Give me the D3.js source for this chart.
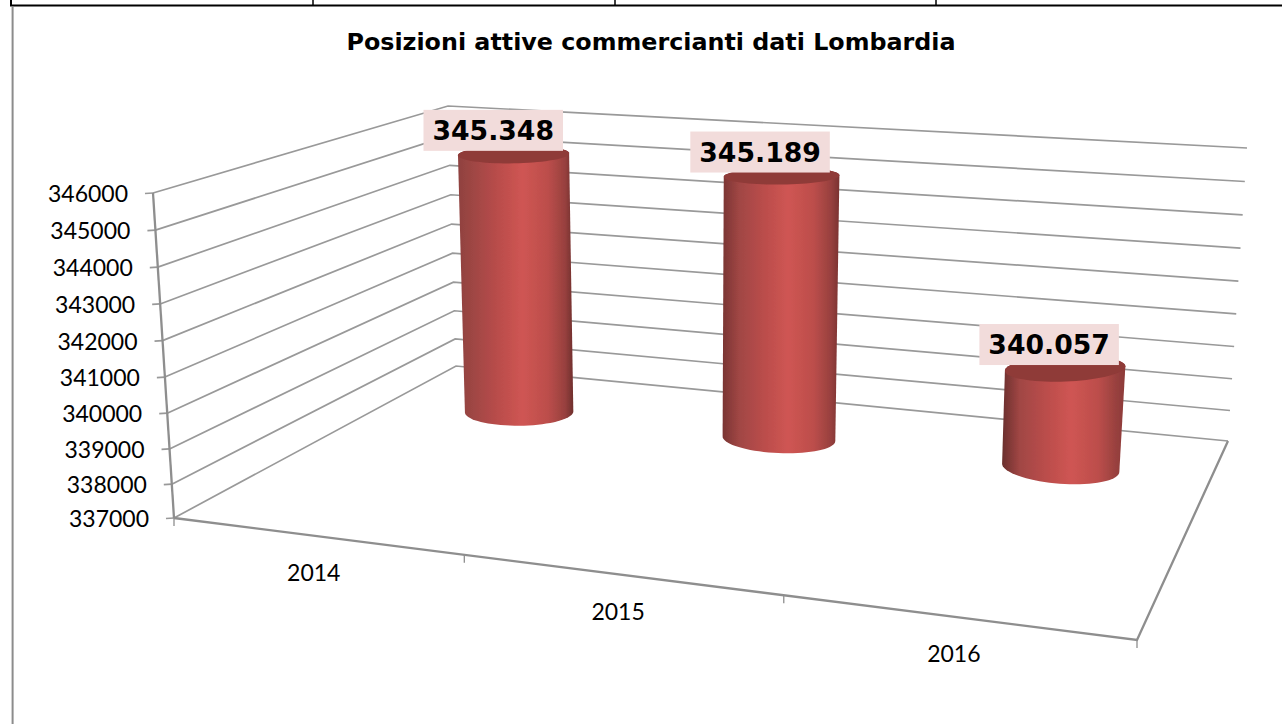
<!DOCTYPE html>
<html><head><meta charset="utf-8">
<script src="https://cdn.jsdelivr.net/npm/d3@7"></script>
<style>html,body{margin:0;padding:0;background:#fff;overflow:hidden}svg{display:block}</style>
</head><body><svg id="c" width="1282" height="724"></svg>
<script>
const titleText = "Posizioni attive commercianti dati Lombardia";
const categories = ["2014", "2015", "2016"];
const values = [345348, 345189, 340057];
const valueLabels = ["345.348", "345.189", "340.057"];
const yTicks = [337000, 338000, 339000, 340000, 341000, 342000, 343000, 344000, 345000, 346000];

// layout: perspective frame of the Excel-style 3D chart
const floorFL = [174, 518], floorFR = [1137, 640], floorBR = [1228, 441], floorBL = [456, 366];
const topFL = [153, 193], topBL = [448, 106], topBR = [1247, 148];
const capRy = [9, 8.5, 13], capRot = [-1, -0.8, -2.2], baseRy = [14, 14.5, 16], baseRot = [-0.5, 2.5, 4.3];
const labelDx = [-20.3, -21.5, -16];
const edgeLeft = ["#8f4240", "#7a3533", "#6a2f2d"], edgeRight = ["#6f2f2d", "#7a3331", "#8c3a38"];
const depth = 0.74, heightK = 326, radiusK = 64.5, columnShift = 2;
const gray = "#999999", grayDark = "#8e8e8e";

const svg = d3.select("#c");
const sScale = d3.scaleLinear().domain([0, categories.length]).range([0, 1]);
const yDomain = d3.extent(yTicks);
// slight foreshortening of the value axis
const persp = d3.scalePow().exponent(1.03).domain([0, yDomain[1] - yDomain[0]]).range([0, 1]);
const frac = v => persp(v - yDomain[0]);

// homography of unit square onto the floor quad
const [x0, y0] = floorFL, [x1, y1] = floorFR, [x2, y2] = floorBR, [x3, y3] = floorBL;
const dx1 = x1 - x2, dy1 = y1 - y2, dx2 = x3 - x2, dy2 = y3 - y2, sx = x0 - x1 + x2 - x3, sy = y0 - y1 + y2 - y3;
const det = dx1 * dy2 - dx2 * dy1;
const g = (sx * dy2 - dx2 * sy) / det, h = (dx1 * sy - sx * dy1) / det;
const a = x1 - x0 + g * x1, b = x3 - x0 + h * x3, d = y1 - y0 + g * y1, e = y3 - y0 + h * y3;
const W = (s, t) => g * s + h * t + 1;
const floor = (s, t) => [(a * s + b * t + x0) / W(s, t), (d * s + e * t + y0) / W(s, t)];

const edge = (bot, top) => { const sc = d3.scaleLinear().domain([0, 1]).range([bot, top]); return v => sc(frac(v)); };
const leftEdge = edge(floorFL, topFL), backEdge = edge(floorBL, topBL), rightEdge = edge(floorBR, topBR);
const line = d3.line();

const gWalls = svg.append("g").attr("fill", "none").attr("stroke", gray).attr("stroke-width", 1.7);
yTicks.forEach(v => {
  gWalls.append("path").attr("d", line([leftEdge(v), backEdge(v), rightEdge(v)]));
  const p = leftEdge(v);
  gWalls.append("path").attr("d", line([[p[0] - 8, p[1] + 0.5], p]));
  svg.append("text").attr("x", p[0] - 25).attr("y", p[1] + 1).attr("dy", "0.36em")
    .attr("text-anchor", "end").attr("font-family", "Lato").attr("font-size", 23).attr("fill", "#000").text(v);
});
// axes
const gAxis = svg.append("g").attr("fill", "none").attr("stroke", grayDark).attr("stroke-width", 2.3);
gAxis.append("path").attr("d", line([topFL, floorFL]));
gAxis.append("path").attr("d", line([floorFL, floorFR, floorBR]));
d3.range(categories.length + 1).forEach(i => {
  const p = floor(sScale(i), 0);
  gAxis.append("path").attr("stroke-width", 1.3).attr("d", line([p, [p[0], p[1] + 8]]));
});
categories.forEach((c, i) => {
  const p = floor(sScale(i + 0.5), 0);
  svg.append("text").attr("x", p[0] - 2).attr("y", p[1] + 37).attr("dy", "0.36em").attr("text-anchor", "middle")
    .attr("font-family", "Lato").attr("font-size", 23).attr("fill", "#000").text(c);
});

// columns
const defs = svg.append("defs");
defs.append("filter").attr("id", "soft").append("feGaussianBlur").attr("stdDeviation", 0.45);
const vanish = [697, 8624];
const ellipse = (c, rx, ry, rot) => {
  const r = rot * Math.PI / 180;
  return d3.range(0, 72).map(k => {
    const th = k / 72 * 2 * Math.PI, ex = rx * Math.cos(th), ey = ry * Math.sin(th);
    return [c[0] + ex * Math.cos(r) - ey * Math.sin(r), c[1] + ex * Math.sin(r) + ey * Math.cos(r)];
  });
};
const closed = d3.line().curve(d3.curveLinearClosed);
values.forEach((v, i) => {
  const s = sScale(i + 0.5), fp = floor(s, depth), w = W(s, depth);
  const base = [fp[0] + columnShift, fp[1]];
  const ht = heightK * frac(v) / w;
  const top = [base[0] - (vanish[0] - base[0]) * ht / (vanish[1] - base[1]), base[1] - ht];
  const rx = radiusK / w;
  const baseE = ellipse(base, rx * 0.985, baseRy[i], baseRot[i]);
  const capE = ellipse(top, rx * 1.01, capRy[i], capRot[i]);
  const id = "cyl" + i;
  const lg = defs.append("linearGradient").attr("id", id).attr("x1", 0).attr("x2", 1).attr("y1", 0).attr("y2", 0);
  [[0, edgeLeft[i]], [0.14, "#a04644"], [0.35, "#ba4d4b"], [0.56, "#cf5553"], [0.78, "#bc4e4b"], [0.93, "#97403e"], [1, edgeRight[i]]]
    .forEach(st => lg.append("stop").attr("offset", st[0]).attr("stop-color", st[1]));
  const col = svg.append("g").attr("filter", "url(#soft)");
  col.append("path").attr("d", closed(d3.polygonHull(baseE.concat(capE)))).attr("fill", `url(#${id})`);
  col.append("path").attr("d", closed(capE)).attr("fill", "#8f3a38");
  // label
  const bw = 139.5, bh = 41, bx = top[0] + labelDx[i] - bw / 2, by = top[1] - 3.5 - bh;
  svg.append("rect").attr("x", bx).attr("y", by).attr("width", bw).attr("height", bh).attr("fill", "#f2dcdb");
  svg.append("text").attr("x", bx + bw / 2).attr("y", by + bh / 2).attr("dy", "0.36em").attr("text-anchor", "middle")
    .attr("font-family", "DejaVu Sans").attr("font-weight", "bold").attr("font-size", 26.7).attr("fill", "#000").text(valueLabels[i]);
});

// title
svg.append("text").attr("x", 651).attr("y", 41).attr("dy", "0.36em").attr("text-anchor", "middle")
  .attr("font-family", "DejaVu Sans").attr("font-weight", "bold").attr("font-size", 23.8).attr("fill", "#000").text(titleText);

// page frame: table rule above, chart border at left
const frame = svg.append("g").attr("fill", "none");
frame.append("path").attr("stroke", "#000").attr("stroke-width", 2).attr("d", line([[11, 0], [11, 5.5], [1282, 5.5]]));
[313, 615, 936].forEach(x => frame.append("path").attr("stroke", "#000").attr("stroke-width", 1.5).attr("d", line([[x, 0], [x, 5.5]])));
frame.append("path").attr("stroke", "#8c8c8c").attr("stroke-width", 2).attr("d", line([[12.6, 7], [12.6, 724]]));
</script></body></html>
